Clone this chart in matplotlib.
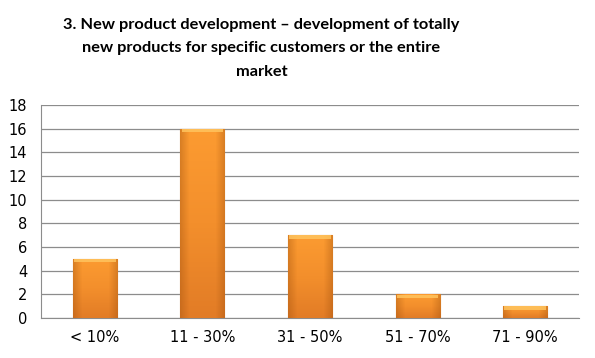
import numpy as np
import matplotlib.pyplot as plt
from matplotlib.colors import LinearSegmentedColormap

categories = ['< 10%', '11 - 30%', '31 - 50%', '51 - 70%', '71 - 90%']
values = [5, 16, 7, 2, 1]
yticks = [0, 2, 4, 6, 8, 10, 12, 14, 16, 18]

plt.rcParams['font.family'] = ['DejaVu Sans']

fig = plt.figure(figsize=(5.95, 3.58), dpi=100)
ax = fig.add_axes([0.069, 0.112, 0.904, 0.595])

x = np.arange(len(categories))
bars = ax.bar(x, values, width=0.41, color='#F08A24', edgecolor='#C07030', linewidth=0.8, zorder=3)

# vertical shading: bright at top, darker at bottom
vcmap = LinearSegmentedColormap.from_list('v', ['#FC9B31', '#F38F2C', '#E27C26'])
edge = LinearSegmentedColormap.from_list('e', [(0.6, 0.3, 0.05, 0.35), (0.6, 0.3, 0.05, 0.0),
                                               (0.6, 0.3, 0.05, 0.0), (0.6, 0.3, 0.05, 0.0),
                                               (0.6, 0.3, 0.05, 0.0), (0.6, 0.3, 0.05, 0.35)])
vg = np.linspace(0, 1, 64).reshape(-1, 1)
hg = np.linspace(0, 1, 64).reshape(1, -1)
for b in bars:
    x0, y0 = b.get_x(), b.get_y()
    w, h = b.get_width(), b.get_height()
    im = ax.imshow(vg, cmap=vcmap, extent=[x0, x0 + w, y0, y0 + h], aspect='auto', zorder=3.5)
    im.set_clip_path(b)
    ov = ax.imshow(hg, cmap=edge, extent=[x0, x0 + w, y0, y0 + h], aspect='auto', zorder=3.55)
    ov.set_clip_path(b)
    # lighter top cap
    ax.fill_between([x0 + 0.012, x0 + w - 0.012], y0 + h - 0.3, y0 + h - 0.03, color='#FFC45E', alpha=0.85, zorder=3.6, linewidth=0)

ax.set_xlim(-0.5, len(categories) - 0.5)
ax.set_ylim(0, 18)
ax.set_yticks(yticks)
ax.set_xticks(x)
ax.set_xticklabels(categories)
ax.tick_params(axis='both', length=0, labelsize=10.5, colors='#000000')
ax.tick_params(axis='x', pad=9)
ax.tick_params(axis='y', pad=10)
ax.yaxis.grid(True, color='#8C8C8C', linewidth=0.9, zorder=0)
ax.set_axisbelow(True)
for s in ['top', 'right']:
    ax.spines[s].set_visible(False)
ax.spines['left'].set_color('#8C8C8C')
ax.spines['bottom'].set_color('#8C8C8C')

fig.text(0.4395, 0.95, '3. New product development \u2013 development of totally\nnew products for specific customers or the entire\nmarket',
         ha='center', va='top', fontsize=11.8, fontweight='bold', linespacing=1.85,
         family=['Lato', 'Open Sans', 'DejaVu Sans'])

fig.savefig('out.png', dpi=100)
